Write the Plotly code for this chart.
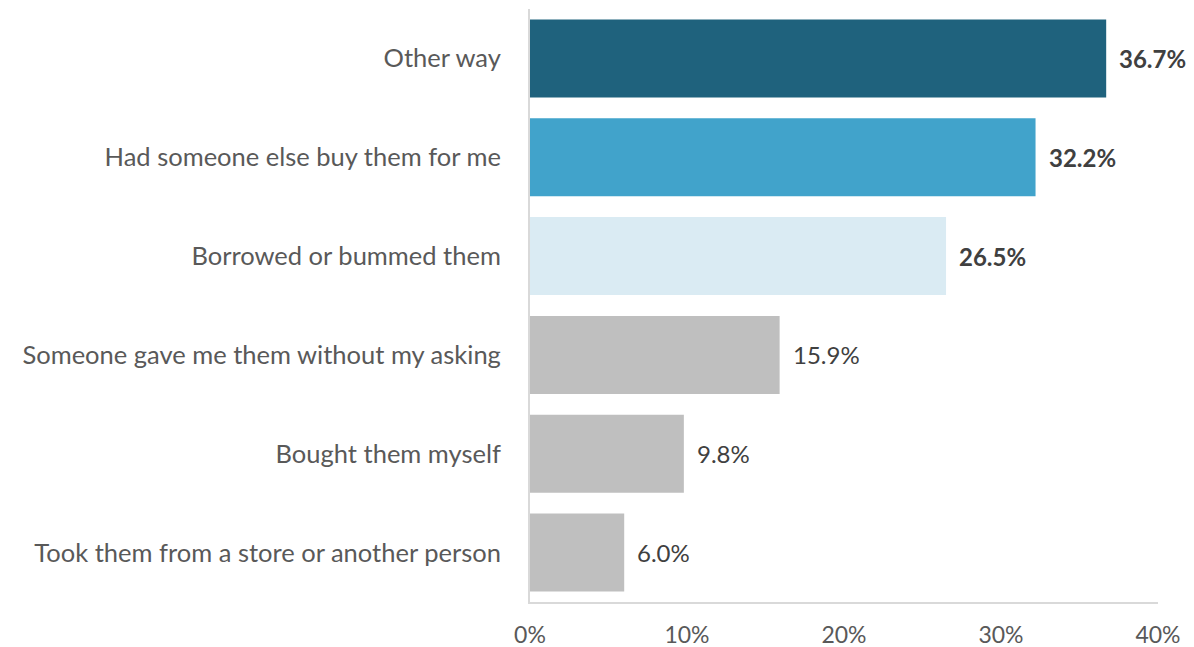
import plotly.graph_objects as go

categories = ["Other way", "Had someone else buy them for me", "Borrowed or bummed them",
              "Someone gave me them without my asking", "Bought them myself",
              "Took them from a store or another person"]
values = [36.7, 32.2, 26.5, 15.9, 9.8, 6.0]
colors = ["#1F627D", "#41A3CB", "#DAEBF3", "#BFBFBF", "#BFBFBF", "#BFBFBF"]
bold = [True, True, True, False, False, False]
x_ticks = [0, 10, 20, 30, 40]
x_tick_labels = ["0%", "10%", "20%", "30%", "40%"]

FONT = "Lato"

fig = go.Figure(go.Bar(
    y=categories, x=values, orientation="h",
    marker=dict(color=colors, line=dict(width=0)),
    hoverinfo="skip",
))

for c, v, b in zip(categories, values, bold):
    txt = f"<b>{v:.1f}%</b>" if b else f"{v:.1f}%"
    fig.add_annotation(x=v, y=c, text=txt, showarrow=False, xanchor="left",
                       xshift=11, font=dict(family=FONT, size=24, color="#404040"))

fig.update_layout(
    width=1186, height=639,
    margin=dict(l=522, r=36, t=1, b=45),
    paper_bgcolor="white", plot_bgcolor="white",
    bargap=0.21, showlegend=False,
    font=dict(family=FONT, color="#595959"),
)
fig.update_xaxes(range=[0, 40], tickvals=x_ticks, ticktext=x_tick_labels,
                 showgrid=False, zeroline=False, showline=True, linecolor="#D9D9D9",
                 linewidth=2, ticks="", ticklabelstandoff=11, automargin=False,
                 tickfont=dict(family=FONT, size=23, color="#595959"), fixedrange=True)
fig.update_yaxes(autorange="reversed", showgrid=False, zeroline=False,
                 showline=True, linecolor="#D9D9D9", linewidth=2, ticks="",
                 ticklabelstandoff=22, automargin=False,
                 tickfont=dict(family=FONT, size=25.5, color="#595959"), fixedrange=True)

fig.write_html("out.html")
